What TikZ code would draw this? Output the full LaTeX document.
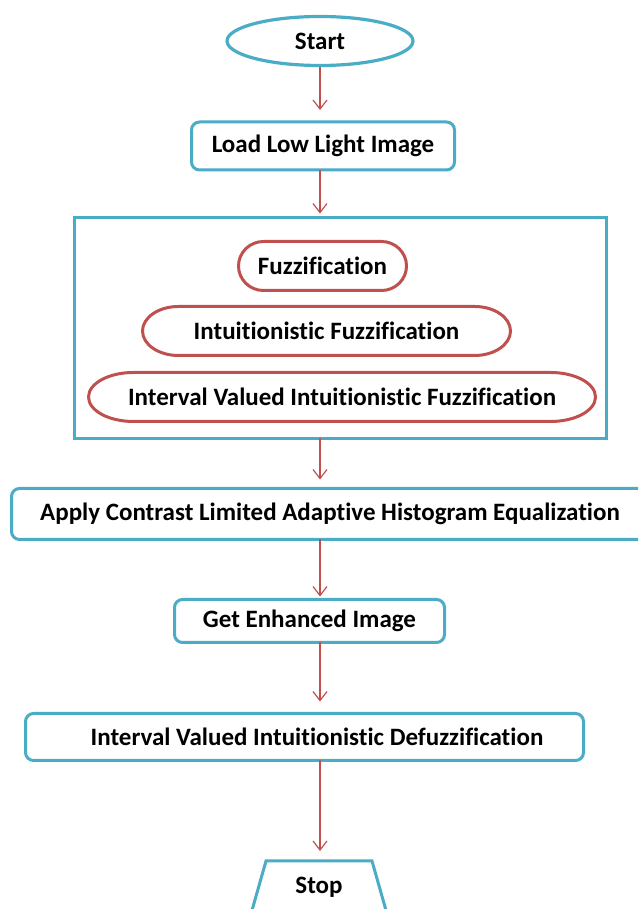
\documentclass[tikz,border=0pt]{standalone}
\usepackage{fontspec}
\setmainfont{Carlito}[Ligatures=NoCommon]
\usetikzlibrary{shapes.geometric, arrows.meta}

\definecolor{boxblue}{RGB}{75,172,198}
\definecolor{fuzzred}{RGB}{192,80,77}

\tikzset{
  every node/.style={font=\bfseries\fontsize{25}{30}\selectfont},
  blockbox/.style={draw=boxblue, line width=3pt, rounded corners=8pt, fill=white, outer sep=0pt},
  pillbox/.style={minimum height=49pt, outer sep=0pt},
  flow/.style={draw=fuzzred, line width=1.2pt, -{Straight Barb[length=9pt, width=14pt]}},
}

% outline of a pill with elliptic ends round a node
\newcommand{\fuzzpill}[2]{%
  \draw [fuzzred, line width=3pt]
    ([xshift=#2]#1.north west) -- ([xshift=-#2]#1.north east)
    arc [start angle=90, end angle=-90, x radius=#2, y radius=24.5pt]
    -- ([xshift=#2]#1.south west)
    arc [start angle=270, end angle=90, x radius=#2, y radius=24.5pt] -- cycle;
}

\begin{document}
\begin{tikzpicture}[x=1pt, y=1pt]

\useasboundingbox [fill=white] (0, 0) rectangle (638, 909);
\clip (0, 0) rectangle (638, 909);

\node [ellipse, draw=boxblue, line width=3.2pt, minimum width=186pt, minimum height=49pt, inner sep=0pt] (start) at (320, 868) {Start};
\node [blockbox, minimum width=263pt, minimum height=48pt] (load) at (323, 763) {Load Low Light Image};

\node [draw=boxblue, line width=3pt, minimum width=532pt, minimum height=221pt, outer sep=0pt] (group) at (340.5, 581) {};
\node [pillbox, minimum width=168pt] (fuzz) at (322.5, 643) {Fuzzification};
\node [pillbox, minimum width=368pt] (intu) at (326.5, 578) {Intuitionistic Fuzzification};
\node [pillbox, minimum width=507pt] (ivif) at (342, 512) {Interval Valued Intuitionistic Fuzzification};
\fuzzpill{fuzz}{25pt}
\fuzzpill{intu}{36pt}
\fuzzpill{ivif}{45pt}

\node [blockbox, minimum width=637pt, minimum height=51pt] (clahe) at (330, 395) {Apply Contrast Limited Adaptive Histogram Equalization};
\node [blockbox, minimum width=270pt, minimum height=43pt] (enh) at (309.5, 288) {Get Enhanced Image};
\node [blockbox, minimum width=558pt, minimum height=47pt] (defuzz) at (304.5, 172) {\hspace*{25pt}Interval Valued Intuitionistic Defuzzification};
\node [trapezium, trapezium angle=74.5, trapezium stretches=true, draw=boxblue, line width=3pt, minimum width=136pt, minimum height=52pt, outer sep=0pt] (stop) at (319, 22) {Stop};

\draw [flow, shorten >=12pt] (start.south) -- (start.south |- load.north);
\draw [flow, shorten >=4pt] (start.south |- load.south) -- (start.south |- group.north);
\draw [flow, shorten >=9pt] (start.south |- group.south) -- (start.south |- clahe.north);
\draw [flow, shorten >=3pt] (start.south |- clahe.south) -- (start.south |- enh.north);
\draw [flow, shorten >=12pt] (start.south |- enh.south) -- (start.south |- defuzz.north);
\draw [flow, shorten >=10pt] (start.south |- defuzz.south) -- (start.south |- stop.north);

\end{tikzpicture}
\end{document}
